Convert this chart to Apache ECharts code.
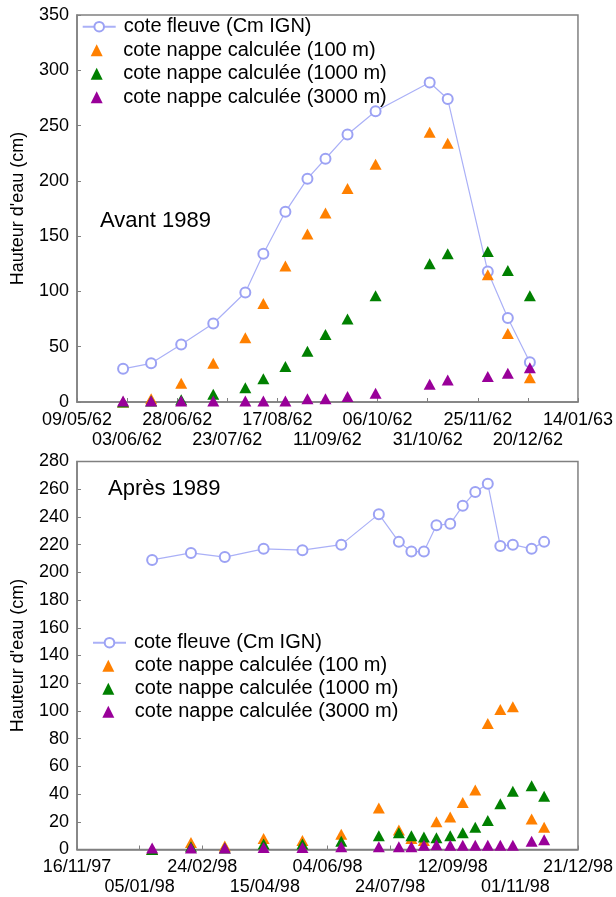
<!DOCTYPE html>
<html>
<head>
<meta charset="utf-8">
<script src="https://cdn.jsdelivr.net/npm/echarts@6/dist/echarts.min.js"></script>
<style>
  html, body { margin: 0; padding: 0; background: #fff; }
  #chart { width: 616px; height: 897px; }
</style>
</head>
<body>
<div id="chart"></div>
<script>
// ---------- DATA ----------
const seriesNames = ['cote fleuve (Cm IGN)', 'cote nappe calculée (100 m)', 'cote nappe calculée (1000 m)', 'cote nappe calculée (3000 m)'];

// Avant 1989
const topTickLabels = ['09/05/62', '03/06/62', '28/06/62', '23/07/62', '17/08/62', '11/09/62', '06/10/62', '31/10/62', '25/11/62', '20/12/62', '14/01/63'];
const topDates = ['01/06/62', '15/06/62', '30/06/62', '16/07/62', '01/08/62', '10/08/62', '21/08/62', '01/09/62', '10/09/62', '21/09/62', '05/10/62', '01/11/62', '10/11/62', '30/11/62', '10/12/62', '21/12/62'];
const topFleuve = [30, 35, 52, 71, 99, 134, 172, 202, 220, 242, 263, 289, 274, 118, 76, 36];
const top100 = [0, 3, 17, 35, 58, 89, 123, 152, 171, 193, 215, 244, 234, 115, 62, 22];
const top1000 = [0, 1, 2, 7, 13, 21, 32, 46, 61, 75, 96, 125, 134, 136, 119, 96];
const top3000 = [1, 1, 1, 1, 1, 1, 1, 3, 3, 5, 8, 16, 20, 23, 26, 31];
const topYTicks = { min: 0, max: 350, interval: 50 };

// Après 1989
const botTickLabels = ['16/11/97', '05/01/98', '24/02/98', '15/04/98', '04/06/98', '24/07/98', '12/09/98', '01/11/98', '21/12/98'];
const botDates = ['15/01/98', '15/02/98', '14/03/98', '14/04/98', '15/05/98', '15/06/98', '15/07/98', '31/07/98', '10/08/98', '20/08/98', '30/08/98', '10/09/98', '20/09/98', '30/09/98', '10/10/98', '20/10/98', '30/10/98', '14/11/98', '24/11/98'];
const botFleuve = [209, 214, 211, 217, 216, 220, 242, 222, 215, 215, 234, 235, 248, 258, 264, 219, 220, 217, 222];
const bot100 = [0, 5, 2.5, 8, 6.5, 11, 30, 14, 8, 6.5, 20, 23.5, 34, 43, 91, 101, 103, 22, 16];
const bot1000 = [0, 2, 1, 4, 4, 6, 10, 12, 10, 9, 8.5, 10, 12, 16, 21, 33, 42, 46, 38.5];
const bot3000 = [1, 1, 1, 1.5, 1.5, 2, 2, 2, 2, 3, 3.5, 3, 3, 3, 3, 3, 3, 6, 7];
const botYTicks = { min: 0, max: 280, interval: 20 };

// ---------- HELPERS ----------
function parseDate(s) {
  const p = s.split('/').map(Number);
  const y = p[2] < 50 ? 2000 + p[2] : 1900 + p[2];
  return Date.UTC(y, p[1] - 1, p[0]);
}
function toDays(s, baseLabel) {
  return Math.round((parseDate(s) - parseDate(baseLabel)) / 864e5);
}
function pairs(dates, vals, baseLabel) {
  return dates.map((d, i) => [toDays(d, baseLabel), vals[i]]);
}
const topBase = topTickLabels[0];
const botBase = botTickLabels[0];
const topStep = toDays(topTickLabels[1], topBase);
const botStep = toDays(botTickLabels[1], botBase);

const FONT = 'Liberation Sans, Arial, Helvetica, sans-serif';
const AXIS_COLOR = '#808080';
const colors = { fleuveLine: '#aab0f7', fleuveSym: '#9ca2f4', o: '#ff8000', g: '#008000', p: '#990099' };

// parity 0: main axis (even labels, with line & ticks); parity 1: second row (odd labels)
function xAxis(gridIndex, labels, step, parity) {
  return {
    type: 'value', gridIndex: gridIndex, position: 'bottom',
    offset: parity ? 20 : 0,
    min: 0, max: step * (labels.length - 1), interval: step,
    axisLine: { show: !parity, lineStyle: { color: AXIS_COLOR, width: 1.5 } },
    axisTick: { show: !parity, inside: true, length: 4, lineStyle: { color: AXIS_COLOR } },
    splitLine: { show: false },
    axisLabel: {
      margin: 9, fontSize: 18, color: '#000', fontFamily: FONT,
      showMinLabel: true, showMaxLabel: true,
      formatter: function (v) {
        const i = Math.round(v / step);
        return (i % 2 === parity) ? (labels[i] || '') : '';
      }
    }
  };
}
function yAxis(gridIndex, t) {
  return {
    type: 'value', gridIndex: gridIndex,
    min: t.min, max: t.max, interval: t.interval,
    name: "Hauteur d'eau (cm)", nameLocation: 'middle', nameGap: 50,
    nameTextStyle: { fontSize: 18, color: '#000', fontFamily: FONT },
    axisLine: { show: true, lineStyle: { color: AXIS_COLOR, width: 1.5 } },
    axisTick: { show: true, inside: true, length: 4, lineStyle: { color: AXIS_COLOR } },
    splitLine: { show: false },
    axisLabel: { margin: 8, fontSize: 18, color: '#000', fontFamily: FONT, showMinLabel: true, showMaxLabel: true }
  };
}
function fleuve(idx, data) {
  return {
    name: seriesNames[0], type: 'line', xAxisIndex: idx, yAxisIndex: idx, data: data,
    symbol: 'emptyCircle', symbolSize: 10,
    lineStyle: { color: colors.fleuveLine, width: 1.2 },
    itemStyle: { color: colors.fleuveSym, borderWidth: 1.6 },
    z: 2
  };
}
function tri(idx, k, color, data) {
  return {
    name: seriesNames[k], type: 'scatter', xAxisIndex: idx, yAxisIndex: idx, data: data,
    symbol: 'triangle', symbolSize: [12, 11],
    itemStyle: { color: color, opacity: 1 }, z: 3 + k
  };
}
function legend(left, top, gap, width, textPad, names) {
  return {
    orient: 'vertical', left: left, top: top, padding: 0,
    itemWidth: width, itemHeight: 12, itemGap: gap,
    selectedMode: false,
    textStyle: { fontSize: 20, lineHeight: 20, color: '#000', fontFamily: FONT, padding: [0, 0, 0, textPad] },
    data: names
  };
}

const option = {
  animation: false,
  backgroundColor: '#fff',
  grid: [
    { left: 77, top: 15, width: 501, height: 387, show: true, borderColor: AXIS_COLOR, borderWidth: 1.5, backgroundColor: 'transparent' },
    { left: 77, top: 461.5, width: 501, height: 388, show: true, borderColor: AXIS_COLOR, borderWidth: 1.5, backgroundColor: 'transparent' }
  ],
  xAxis: [
    xAxis(0, topTickLabels, topStep, 0),
    xAxis(1, botTickLabels, botStep, 0),
    xAxis(0, topTickLabels, topStep, 1),
    xAxis(1, botTickLabels, botStep, 1)
  ],
  yAxis: [yAxis(0, topYTicks), yAxis(1, botYTicks)],
  legend: [
    legend(81.7, 16.7, 3.5, 33, 3, seriesNames.slice(0, 1)),
    legend(90.7, 40.2, 3.5, 12, 15.5, seriesNames.slice(1)),
    legend(92, 632.7, 3, 33, 3, seriesNames.slice(0, 1)),
    legend(102.3, 655.7, 3, 12, 15.5, seriesNames.slice(1))
  ],
  graphic: [
    { type: 'text', left: 100, top: 210, style: { text: 'Avant 1989', fontSize: 22, fill: '#000', fontFamily: FONT } },
    { type: 'text', left: 108, top: 477.5, style: { text: 'Après 1989', fontSize: 22, fill: '#000', fontFamily: FONT } }
  ],
  series: [
    fleuve(0, pairs(topDates, topFleuve, topBase)),
    tri(0, 1, colors.o, pairs(topDates, top100, topBase)),
    tri(0, 2, colors.g, pairs(topDates, top1000, topBase)),
    tri(0, 3, colors.p, pairs(topDates, top3000, topBase)),
    fleuve(1, pairs(botDates, botFleuve, botBase)),
    tri(1, 1, colors.o, pairs(botDates, bot100, botBase)),
    tri(1, 2, colors.g, pairs(botDates, bot1000, botBase)),
    tri(1, 3, colors.p, pairs(botDates, bot3000, botBase))
  ]
};

const chart = echarts.init(document.getElementById('chart'), null, { renderer: 'canvas' });
chart.setOption(option);
</script>
</body>
</html>
